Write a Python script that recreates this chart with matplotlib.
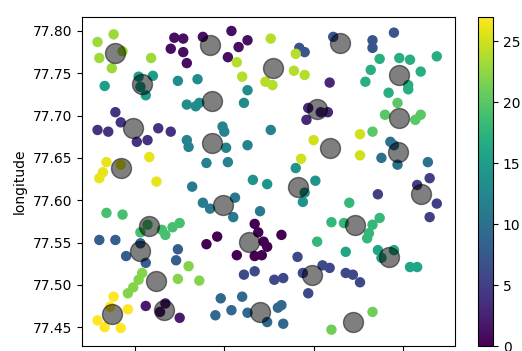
import numpy as np
import matplotlib
matplotlib.use("Agg")
import matplotlib.pyplot as plt

# points per cluster (latitude on x, longitude on y), cluster index = list position
cluster_lat = [
    [12.967, 12.969, 12.946, 12.940, 12.957, 12.972, 12.974, 12.971, 12.967, 12.982],
    [12.922, 12.927, 12.920, 12.927, 12.929, 12.938, 12.954, 12.963, 12.958, 12.952],
    [12.906, 12.917, 12.914, 12.925],
    [12.997, 12.996, 13.004, 13.008, 13.009],
    [12.889, 12.892, 12.879, 12.885, 12.901, 12.907, 12.913, 12.920],
    [13.036, 13.058, 13.065, 13.069, 13.065],
    [12.991, 12.961, 12.967, 12.978, 12.983, 12.994, 13.005, 13.009, 12.997, 13.018, 13.022, 13.026],
    [13.011, 12.992, 12.995, 13.033, 13.033, 13.045],
    [12.880, 12.889, 12.895, 12.903, 12.906, 12.924, 12.923],
    [12.948, 12.960, 12.945, 12.954, 12.963, 12.982, 12.980, 12.974, 12.983],
    [13.043, 13.045, 13.038, 13.047, 13.064],
    [12.932, 12.938, 12.942, 12.956, 12.955, 12.970],
    [12.929, 12.930, 12.940, 12.949, 12.950, 12.976, 12.963, 12.951, 12.952],
    [12.924, 12.935, 12.929, 12.934, 12.936, 12.963, 12.961],
    [12.990, 12.966, 12.974, 13.001, 12.994, 12.995],
    [12.902, 12.910, 12.906, 12.903, 12.883],
    [13.018, 13.036, 13.045, 13.038, 13.054, 13.058],
    [13.037, 13.048, 13.054, 13.069, 13.032, 13.029, 13.060, 13.053, 13.053, 13.042],
    [13.020, 13.010, 13.037, 13.033, 13.031, 13.030, 13.017, 13.002],
    [12.884, 12.893, 12.903, 12.907, 12.915, 12.917, 12.921, 12.925],
    [13.047, 13.040, 13.060, 13.057, 13.033],
    [13.033, 13.010],
    [12.896, 12.899, 12.902, 12.904, 12.930, 12.924, 12.936],
    [12.879, 12.888, 12.880, 12.887, 12.909, 12.893],
    [12.976, 12.957, 12.960, 12.973, 12.977, 12.990, 12.989, 12.995],
    [13.000, 12.993, 13.026, 13.026],
    [12.884, 12.882, 12.880, 12.892, 12.908, 12.912],
    [12.888, 12.886, 12.896, 12.879, 12.883, 12.892],
]
cluster_lon = [
    [77.572, 77.562, 77.557, 77.548, 77.535, 77.551, 77.545, 77.535, 77.534, 77.559],
    [77.792, 77.791, 77.779, 77.775, 77.762, 77.793, 77.800, 77.789, 77.781, 77.769],
    [77.475, 77.478, 77.468, 77.461],
    [77.709, 77.695, 77.704, 77.704, 77.739],
    [77.704, 77.692, 77.683, 77.681, 77.669, 77.671, 77.685, 77.681],
    [77.607, 77.618, 77.626, 77.596, 77.580],
    [77.533, 77.512, 77.516, 77.506, 77.508, 77.514, 77.523, 77.520, 77.490, 77.514, 77.512, 77.503],
    [77.793, 77.780, 77.775, 77.789, 77.780, 77.798],
    [77.553, 77.553, 77.534, 77.549, 77.526, 77.542, 77.529],
    [77.484, 77.486, 77.464, 77.470, 77.467, 77.476, 77.473, 77.456, 77.454],
    [77.669, 77.665, 77.650, 77.642, 77.645],
    [77.616, 77.597, 77.590, 77.603, 77.580, 77.587],
    [77.671, 77.663, 77.644, 77.687, 77.681, 77.683, 77.665, 77.662, 77.645],
    [77.741, 77.743, 77.713, 77.711, 77.715, 77.730, 77.715],
    [77.638, 77.624, 77.619, 77.623, 77.598, 77.609],
    [77.746, 77.747, 77.724, 77.734, 77.735],
    [77.539, 77.541, 77.541, 77.532, 77.521, 77.521],
    [77.767, 77.768, 77.766, 77.770, 77.754, 77.740, 77.752, 77.736, 77.731, 77.727],
    [77.597, 77.574, 77.579, 77.571, 77.561, 77.555, 77.573, 77.551],
    [77.585, 77.583, 77.562, 77.571, 77.565, 77.559, 77.568, 77.573],
    [77.715, 77.701, 77.701, 77.695, 77.681],
    [77.468, 77.447],
    [77.490, 77.497, 77.506, 77.514, 77.522, 77.507, 77.505],
    [77.787, 77.796, 77.768, 77.756, 77.768, 77.776],
    [77.791, 77.763, 77.746, 77.740, 77.736, 77.773, 77.753, 77.748],
    [77.671, 77.649, 77.678, 77.653],
    [77.645, 77.633, 77.626, 77.642, 77.651, 77.622],
    [77.486, 77.474, 77.471, 77.458, 77.450, 77.449],
]

# k-means centres, same order as the clusters
center_lat = [12.964, 12.942, 12.916, 13.002, 12.899, 13.060, 12.999, 13.015, 12.903, 12.970,
              13.047, 12.949, 12.943, 12.943, 12.991, 12.904, 13.042, 13.048, 13.023, 12.908,
              13.048, 13.022, 12.912, 12.889, 12.977, 13.009, 12.892, 12.887]
center_lon = [77.551, 77.783, 77.470, 77.708, 77.685, 77.607, 77.512, 77.786, 77.540, 77.468,
              77.657, 77.594, 77.668, 77.717, 77.616, 77.737, 77.533, 77.748, 77.571, 77.570,
              77.697, 77.456, 77.505, 77.774, 77.756, 77.662, 77.638, 77.466]

lat = np.concatenate([np.array(c) for c in cluster_lat])
lon = np.concatenate([np.array(c) for c in cluster_lon])
labels = np.concatenate([np.full(len(c), i) for i, c in enumerate(cluster_lat)])

fig = plt.figure(figsize=(5.22, 3.51), dpi=100)
ax = fig.add_axes([82/522, 5/351, 373/522, 329/351])
cax = fig.add_axes([478/522, 5/351, 15/522, 329/351])

sc = ax.scatter(lat, lon, c=labels, s=42, cmap='viridis', vmin=0, vmax=27)
ax.scatter(center_lat, center_lon, c='black', s=207, alpha=0.5)

ax.set_xlim(12.8703, 13.0792)
ax.set_ylim(77.4277, 77.8165)
ax.set_xticks([12.90, 12.95, 13.00, 13.05])
ax.set_xticklabels([])  # labels fall below the cropped picture
ax.set_yticks([77.45, 77.50, 77.55, 77.60, 77.65, 77.70, 77.75, 77.80])
ax.set_yticklabels(['%.2f' % v for v in [77.45, 77.50, 77.55, 77.60, 77.65, 77.70, 77.75, 77.80]])
ax.tick_params(labelsize=10)
ax.set_ylabel('longitude', fontsize=10)

cb = fig.colorbar(sc, cax=cax)
cb.set_ticks([0, 5, 10, 15, 20, 25])
cb.ax.tick_params(labelsize=10)

fig.savefig('out.png', dpi=100)
